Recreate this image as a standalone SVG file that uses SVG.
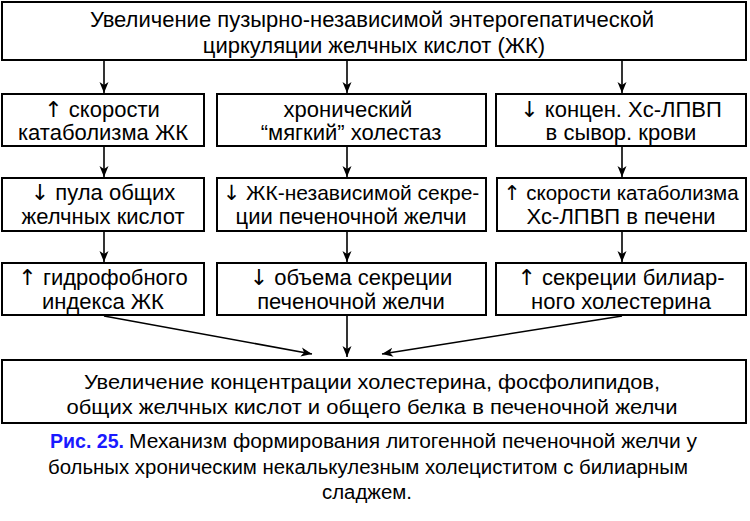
<svg xmlns="http://www.w3.org/2000/svg" width="750" height="521" viewBox="0 0 750 521">
<defs>
<style>
.box{fill:#fff;stroke:#000;stroke-width:2}
.t{font-family:"Liberation Sans",Arial,sans-serif;font-size:22px;fill:#000;text-anchor:middle}
.a{font-family:"DejaVu Sans",sans-serif;font-weight:normal;fill:#000}
.n{font-family:"Liberation Sans",Arial,sans-serif;font-size:21px;fill:#000;text-anchor:middle}
.c{font-family:"Liberation Sans",Arial,sans-serif;font-size:20px;fill:#000}
.cb{font-family:"Liberation Sans",Arial,sans-serif;font-size:20px;fill:#1a1aff;font-weight:bold}
.ln{stroke:#000;stroke-width:1.6;fill:none;marker-end:url(#ah)}
</style>
<marker id="ah" markerUnits="userSpaceOnUse" markerWidth="12" markerHeight="10" refX="11" refY="5" orient="auto">
<path d="M0,0.5 L11,5 L0,9.5 L3,5 z" fill="#000"/>
</marker>
</defs>
<rect width="750" height="521" fill="#fff"/>

<g id="top">
<rect class="box" x="2" y="2" width="744" height="58"/>
<text class="t" x="372" y="27">Увеличение пузырно-независимой энтерогепатической</text>
<text class="t" x="374" y="53">циркуляции желчных кислот (ЖК)</text>
</g>

<g id="r1c1">
<rect class="box" x="2" y="94" width="202" height="52"/>
<text class="t" x="102" y="117"><tspan class="a">↑</tspan> скорости</text>
<text class="t" x="103" y="140">катаболизма ЖК</text>
</g>
<g id="r1c2">
<rect class="box" x="217" y="94" width="269" height="52"/>
<text class="t" x="348" y="117">хронический</text>
<text class="t" x="351" y="140">“мягкий” холестаз</text>
</g>
<g id="r1c3">
<rect class="box" x="496" y="94" width="250" height="52"/>
<text class="t" x="621" y="117"><tspan class="a">↓</tspan> концен. Хс-ЛПВП</text>
<text class="t" x="621" y="140">в сывор. крови</text>
</g>

<g id="r2c1">
<rect class="box" x="2" y="178" width="202" height="53"/>
<text class="t" x="103" y="200"><tspan class="a">↓</tspan> пула общих</text>
<text class="t" x="103" y="224">желчных кислот</text>
</g>
<g id="r2c2">
<rect class="box" x="217" y="178" width="269" height="53"/>
<text class="t" x="351" y="200" style="font-size:21px"><tspan class="a">↓</tspan> ЖК-независимой секре-</text>
<text class="t" x="351" y="224">ции печеночной желчи</text>
</g>
<g id="r2c3">
<rect class="box" x="497" y="178" width="249" height="53"/>
<text class="t" x="621" y="200" style="font-size:20.5px"><tspan class="a">↑</tspan> скорости катаболизма</text>
<text class="t" x="621" y="224">Хс-ЛПВП в печени</text>
</g>

<g id="r3c1">
<rect class="box" x="2" y="263" width="202" height="52"/>
<text class="t" x="103" y="285"><tspan class="a">↑</tspan> гидрофобного</text>
<text class="t" x="103" y="309">индекса ЖК</text>
</g>
<g id="r3c2">
<rect class="box" x="217" y="263" width="269" height="52"/>
<text class="t" x="351" y="285"><tspan class="a">↓</tspan> объема секреции</text>
<text class="t" x="351" y="309">печеночной желчи</text>
</g>
<g id="r3c3">
<rect class="box" x="496" y="263" width="250" height="52"/>
<text class="t" x="621" y="285"><tspan class="a">↑</tspan> секреции билиар-</text>
<text class="t" x="621" y="309">ного холестерина</text>
</g>

<g id="bottom">
<rect class="box" x="2" y="360" width="744" height="63"/>
<text class="n" x="372" y="389" textLength="576" lengthAdjust="spacingAndGlyphs">Увеличение концентрации холестерина, фосфолипидов,</text>
<text class="n" x="372" y="414" textLength="611" lengthAdjust="spacingAndGlyphs">общих желчных кислот и общего белка в печеночной желчи</text>
</g>

<g id="connectors">
<line class="ln" x1="104" y1="61" x2="104" y2="93"/>
<line class="ln" x1="347" y1="61" x2="347" y2="93"/>
<line class="ln" x1="622" y1="61" x2="622" y2="93"/>
<line class="ln" x1="104" y1="147" x2="104" y2="177"/>
<line class="ln" x1="347" y1="147" x2="347" y2="177"/>
<line class="ln" x1="622" y1="147" x2="622" y2="177"/>
<line class="ln" x1="104" y1="232" x2="104" y2="262"/>
<line class="ln" x1="347" y1="232" x2="347" y2="262"/>
<line class="ln" x1="622" y1="232" x2="622" y2="262"/>
<line class="ln" x1="104" y1="316" x2="312" y2="354"/>
<line class="ln" x1="347" y1="316" x2="347" y2="357"/>
<line class="ln" x1="622" y1="316" x2="382" y2="354"/>
</g>

<g id="caption">
<text class="cb" x="50" y="448" textLength="74" lengthAdjust="spacingAndGlyphs">Рис. 25.</text>
<text class="c" x="129" y="448" textLength="568" lengthAdjust="spacingAndGlyphs">Механизм формирования литогенной печеночной желчи у</text>
<text class="c" x="48" y="474" textLength="640" lengthAdjust="spacingAndGlyphs">больных хроническим некалькулезным холециститом с билиарным</text>
<text class="c" x="322" y="499" textLength="90" lengthAdjust="spacingAndGlyphs">сладжем.</text>
</g>
</svg>
